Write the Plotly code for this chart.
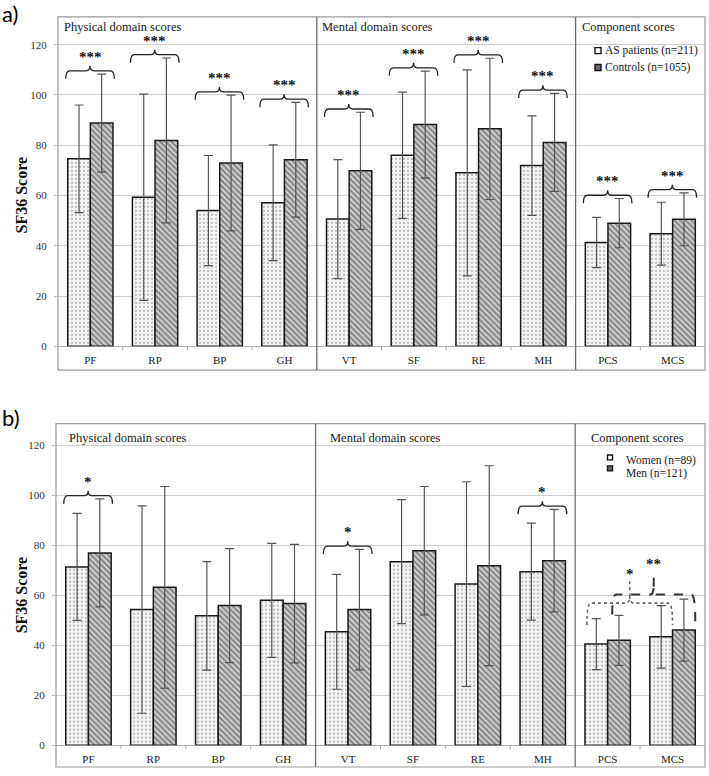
import plotly.graph_objects as go

# ---------------- data ----------------
categories = ["PF", "RP", "BP", "GH", "VT", "SF", "RE", "MH", "PCS", "MCS"]
section_titles = ["Physical domain scores", "Mental domain scores", "Component scores"]
y_tick_values = [0, 20, 40, 60, 80, 100, 120]

# panel a) AS patients vs controls (mean, SD)
as_patients_mean = [74.6, 59.3, 54.0, 57.1, 50.6, 76.0, 69.0, 71.9, 41.3, 44.8]
as_patients_sd = [21.4, 41.0, 21.9, 23.0, 23.7, 25.1, 41.0, 19.8, 10.0, 12.5]
controls_mean = [88.8, 81.9, 72.9, 74.2, 69.8, 88.2, 86.5, 81.1, 49.0, 50.5]
controls_sd = [19.5, 32.8, 27.0, 22.8, 23.3, 21.3, 28.1, 19.5, 9.8, 10.5]
a_significance = ["***", "***", "***", "***", "***", "***", "***", "***", "***", "***"]

# panel b) women vs men (mean, SD)
women_mean = [71.4, 54.3, 51.8, 58.0, 45.4, 73.5, 64.5, 69.5, 40.5, 43.4]
women_sd = [21.4, 41.5, 21.7, 22.8, 23.0, 24.8, 41.0, 19.4, 10.2, 12.5]
men_mean = [77.0, 63.2, 55.9, 56.7, 54.3, 77.9, 71.9, 73.9, 42.0, 46.1]
men_sd = [21.6, 40.4, 22.8, 23.7, 24.1, 25.7, 40.0, 20.5, 10.0, 12.4]
b_significance = ["*", "", "", "", "*", "", "", "*", "", ""]
b_pcs_vs_mcs_women = "*"
b_pcs_vs_mcs_men = "**"

legend_a = ["AS patients (n=211)", "Controls (n=1055)"]
legend_b = ["Women (n=89)", "Men (n=121)"]

# ---------------- layout geometry (pixels) ----------------
W, H = 709, 776
SERIF = "Liberation Serif, Times New Roman, serif"
geom = {
    "a": dict(left=58, right=705, top=17, zero=349, bottom=373, y120=45, xa="x", ya="y",
              head_x=[62, 320, 580], head_y=27, label_y=14, tag="a)"),
    "b": dict(left=56, right=705, top=427, zero=751, bottom=773, y120=449, xa="x2", ya="y2",
              head_x=[67, 328, 589], head_y=441, label_y=421, tag="b)"),
}


def fx(p):
    return p / W


def fy(p):
    return 1 - p / H


for g in geom.values():
    g["ppu"] = (g["zero"] - g["y120"]) / 120.0          # pixels per y unit
    g["ymax"] = (g["zero"] - g["top"]) / g["ppu"]
    g["band"] = (g["right"] - g["left"]) / len(categories)  # pixels per category

fig = go.Figure()

dot_pattern = dict(shape=".", fgcolor="#6f6f6f", bgcolor="#f3f3f3", size=4, solidity=0.22)
hatch_pattern = dict(shape="\\", fgcolor="#333333", bgcolor="#cccccc", size=4, solidity=0.45)

x_idx = list(range(len(categories)))


def add_pair(g, series):
    for name, mean, sd, pat in series:
        fig.add_trace(go.Bar(
            x=x_idx, y=mean, name=name, xaxis=g["xa"], yaxis=g["ya"],
            marker=dict(color=pat["bgcolor"], pattern=pat,
                        line=dict(color="#1a1a1a", width=1.5)),
            error_y=dict(type="data", array=sd, visible=True, color="#555555",
                         thickness=1.2, width=4.5),
            showlegend=False, hoverinfo="skip"))


add_pair(geom["a"], [(legend_a[0], as_patients_mean, as_patients_sd, dot_pattern),
                     (legend_a[1], controls_mean, controls_sd, hatch_pattern)])
add_pair(geom["b"], [(legend_b[0], women_mean, women_sd, dot_pattern),
                     (legend_b[1], men_mean, men_sd, hatch_pattern)])

shapes = []
annotations = []


def brace(g, x0, x1, y, label, drop_l=8, drop_r=8, tip=5, stem=0, star_px=14,
          color="#222222", width=1.3, dash="solid", font_size=15, xm=None):
    u = 1.0 / g["ppu"]
    r = 4.0 / g["band"]
    if xm is None:
        xm = (x0 + x1) / 2
    yt = y + tip * u
    p = (f"M{x0},{y - drop_l * u} Q{x0},{y} {x0 + r},{y} L{xm - r},{y} "
         f"Q{xm},{y} {xm},{yt} Q{xm},{y} {xm + r},{y} L{x1 - r},{y} "
         f"Q{x1},{y} {x1},{y - drop_r * u}")
    if stem > tip:
        p += f" M{xm},{yt} L{xm},{y + stem * u}"
    shapes.append(dict(type="path", path=p, xref=g["xa"], yref=g["ya"],
                       line=dict(color=color, width=width, dash=dash)))
    annotations.append(dict(x=xm, y=y, xref=g["xa"], yref=g["ya"], text=f"<b>{label}</b>",
                            showarrow=False, yanchor="middle", yshift=star_px,
                            font=dict(family=SERIF, size=font_size, color="#111111")))


def pair_braces(g, m1, s1, m2, s2, sig):
    for i, lab in enumerate(sig):
        if not lab:
            continue
        top = max(m1[i] + s1[i], m2[i] + s2[i]) + 1.3
        brace(g, i - 0.38, i + 0.37, top, lab)


pair_braces(geom["a"], as_patients_mean, as_patients_sd, controls_mean, controls_sd, a_significance)
pair_braces(geom["b"], women_mean, women_sd, men_mean, men_sd, b_significance)

# PCS vs MCS comparisons within sex (panel b)
gb = geom["b"]
ipcs, imcs = categories.index("PCS"), categories.index("MCS")
yw = max(women_mean[ipcs] + women_sd[ipcs], women_mean[imcs] + women_sd[imcs]) + 1.0
brace(gb, ipcs - 0.32, imcs + 0.0, yw, b_pcs_vs_mcs_women, drop_l=22, drop_r=22,
      tip=7, stem=22, star_px=29, color="#666666", width=1.6, dash="dot")
ym = max(men_mean[ipcs] + men_sd[ipcs], men_mean[imcs] + men_sd[imcs]) + 1.8
brace(gb, ipcs + 0.07, imcs + 0.35, ym, b_pcs_vs_mcs_men, drop_l=20, drop_r=27,
      tip=8, stem=26, star_px=31, color="#333333", width=2, dash="dash")

# frames, separators, headers, legends, labels
for key, g in geom.items():
    shapes.append(dict(type="rect", xref="paper", yref="paper",
                       x0=fx(g["left"]), x1=fx(g["right"]), y0=fy(g["bottom"]), y1=fy(g["top"]),
                       line=dict(color="#9a9a9a", width=1.2), layer="above"))
    for b in (3.5, 7.5):
        shapes.append(dict(type="line", xref=g["xa"], yref="paper", x0=b, x1=b,
                           y0=fy(g["bottom"]), y1=fy(g["top"]),
                           line=dict(color="#6e6e6e", width=1.3), layer="above"))
    for b in (0.5, 1.5, 2.5, 4.5, 5.5, 6.5, 8.5):
        shapes.append(dict(type="line", xref=g["xa"], yref="paper", x0=b, x1=b,
                           y0=fy(g["zero"]), y1=fy(g["zero"] + 4),
                           line=dict(color="#aaaaaa", width=1)))
    for t, hx in zip(section_titles, g["head_x"]):
        annotations.append(dict(x=fx(hx), y=fy(g["head_y"]), xref="paper", yref="paper",
                                text=t, showarrow=False, xanchor="left", yanchor="middle",
                                font=dict(family=SERIF, size=12.5, color="#1a1a1a")))
    annotations.append(dict(x=fx(21), y=fy((g["zero"] + g["y120"]) / 2), xref="paper",
                            yref="paper", text="<b>SF36 Score</b>", textangle=-90,
                            showarrow=False, xanchor="center", yanchor="middle",
                            font=dict(family=SERIF, size=16, color="#111111")))
    annotations.append(dict(x=0, y=fy(g["label_y"]), xref="paper", yref="paper",
                            text=g["tag"], showarrow=False, xanchor="left", yanchor="middle",
                            font=dict(family="Lato, Carlito, sans-serif", size=22, color="#000000")))

# manual legends
leg = [
    (legend_a, [(598, 51), (598, 68)], [(603, 51), (603, 68)], 6),
    (legend_b, [(610, 461), (610, 472)], [(624, 464), (624, 477)], 5),
]
icon_fill = ["#ffffff", "#6a6a6a"]
for names, icons, texts, s in leg:
    for k, name in enumerate(names):
        ix, iy = icons[k]
        shapes.append(dict(type="rect", xref="paper", yref="paper",
                           x0=fx(ix - s / 2), x1=fx(ix + s / 2), y0=fy(iy + s / 2), y1=fy(iy - s / 2),
                           fillcolor=icon_fill[k], line=dict(color="#111111", width=1.4)))
        tx, ty = texts[k]
        annotations.append(dict(x=fx(tx), y=fy(ty), xref="paper", yref="paper", text=name,
                                showarrow=False, xanchor="left", yanchor="middle",
                                font=dict(family=SERIF, size=11.5, color="#1a1a1a")))

axis_common_y = dict(tickvals=y_tick_values, showgrid=True, gridcolor="#cfcfcf", gridwidth=1,
                     zeroline=True, zerolinecolor="#b0b0b0", zerolinewidth=1,
                     ticks="outside", ticklen=3, tickcolor="#bbbbbb", ticklabelstandoff=5,
                     tickfont=dict(family=SERIF, size=11, color="#333333"),
                     showline=False, fixedrange=True)
axis_common_x = dict(range=[-0.5, len(categories) - 0.5], tickvals=x_idx, ticktext=categories,
                     ticks="", showgrid=False, zeroline=False, showline=False,
                     ticklabelstandoff=6, tickfont=dict(family=SERIF, size=11, color="#222222"),
                     fixedrange=True)

ga, gb = geom["a"], geom["b"]
fig.update_layout(
    width=W, height=H, margin=dict(l=0, r=0, t=0, b=0),
    paper_bgcolor="white", plot_bgcolor="white",
    barmode="group", bargap=0.3, bargroupgap=0,
    showlegend=False,
    xaxis=dict(domain=[fx(ga["left"]), fx(ga["right"])], anchor="y", **axis_common_x),
    yaxis=dict(domain=[fy(ga["zero"]), fy(ga["top"])], anchor="x", range=[0, ga["ymax"]], **axis_common_y),
    xaxis2=dict(domain=[fx(gb["left"]), fx(gb["right"])], anchor="y2", **axis_common_x),
    yaxis2=dict(domain=[fy(gb["zero"]), fy(gb["top"])], anchor="x2", range=[0, gb["ymax"]], **axis_common_y),
    shapes=shapes, annotations=annotations,
)

fig.write_html(
    "out.html",
    config={"displayModeBar": False},
    post_script="document.body.style.margin='0px';document.body.style.overflow='hidden';",
)
